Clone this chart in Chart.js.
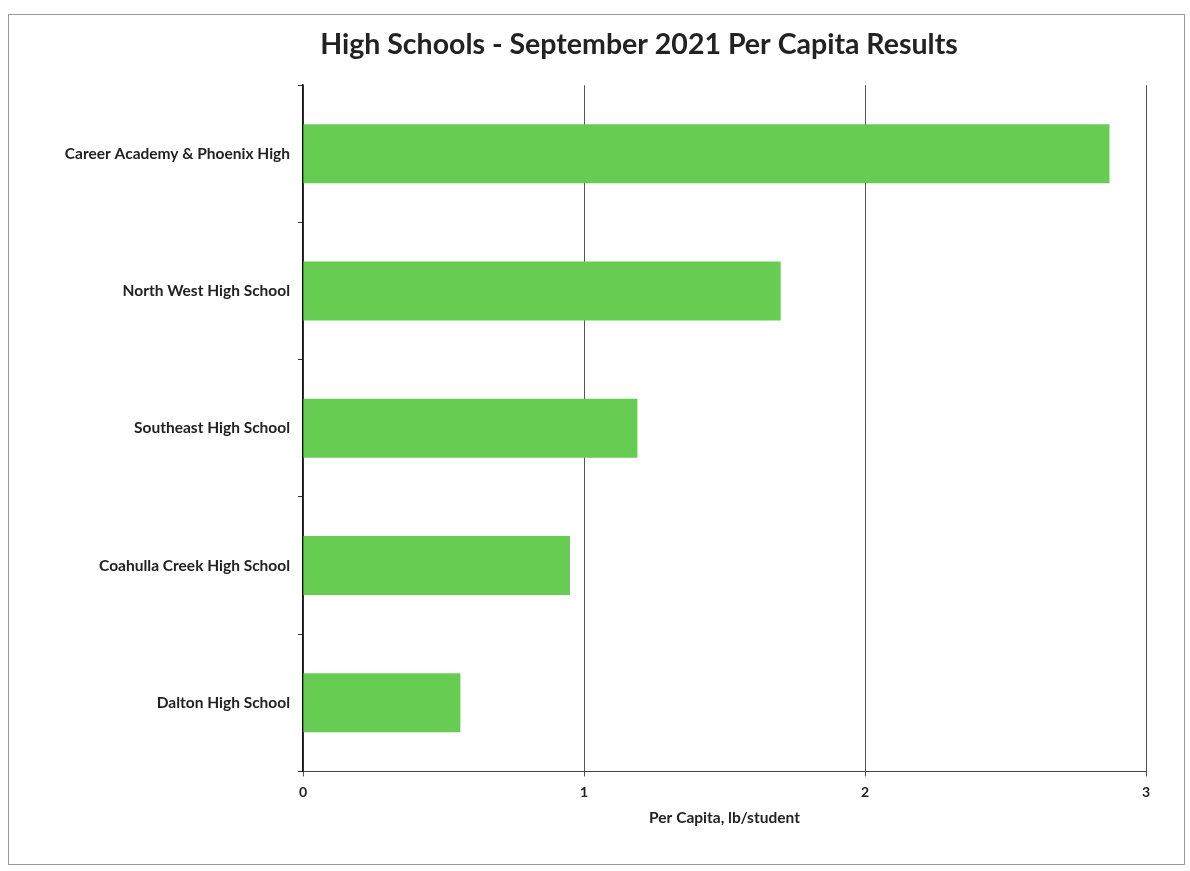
<!DOCTYPE html>
<html>
<head>
<meta charset="utf-8">
<title>High Schools - September 2021 Per Capita Results</title>
<script src="https://cdn.jsdelivr.net/npm/chart.js@4/dist/chart.umd.min.js"></script>
<style>
  html, body { margin: 0; padding: 0; background: #fff; }
  body { width: 1190px; height: 871px; position: relative; overflow: hidden; }
  .frame {
    position: absolute; left: 8px; top: 14px; width: 1177px; height: 851px;
    border: 1px solid #9a9a9a; box-sizing: border-box;
  }
  .wrap { position: absolute; left: 0; top: 0; width: 1190px; height: 871px; }
</style>
</head>
<body>
<div class="frame"></div>
<div class="wrap"><canvas id="perCapitaChart" width="1190" height="871"></canvas></div>
<script>
// ── Data ──
const schools = [
  'Career Academy & Phoenix High',
  'North West High School',
  'Southeast High School',
  'Coahulla Creek High School',
  'Dalton High School'
];
const perCapita = [2.87, 1.70, 1.19, 0.95, 0.56];
const xTicks = [0, 1, 2, 3];

const chartTitle = 'High Schools - September 2021 Per Capita Results';
const xTitle = 'Per Capita, lb/student';

// ── Style ──
const FONT = "Lato, 'Open Sans', sans-serif";
const BAR_GREEN = '#67cc52';
const INK = '#222';
const PAD_LEFT = 45;
const AXIS_X = 303;   // where the value axis starts

const $ = id => document.getElementById(id);

// Title in the original sits right of the page centre; shift its box after layout
const titleShift = {
  id: 'titleShift',
  afterLayout(chart) {
    const t = chart.titleBlock;
    if (!t) return;
    t.left = 88;
    t.right = 1190;
  }
};

// ── Chart ──
const chart = new Chart($('perCapitaChart').getContext('2d'), {
  type: 'bar',
  data: {
    labels: schools,
    datasets: [{
      data: perCapita,
      backgroundColor: BAR_GREEN,
      borderWidth: 0,
      categoryPercentage: 1,
      barPercentage: 0.43,
    }]
  },
  plugins: [titleShift],
  options: {
    indexAxis: 'y',
    responsive: false,
    animation: false,
    layout: { padding: { left: PAD_LEFT, right: 44, top: 28, bottom: 40 } },
    plugins: {
      legend: { display: false },
      tooltip: { enabled: false },
      title: {
        display: true,
        text: chartTitle,
        color: INK,
        font: { family: FONT, size: 28.5, weight: 'bold' },
        padding: { top: 0, bottom: 23 }
      }
    },
    scales: {
      x: {
        min: 0,
        max: 3,
        afterBuildTicks: scale => { scale.ticks = xTicks.map(v => ({ value: v })); },
        grid: { color: '#555', lineWidth: 1, tickLength: 5 },
        border: { color: '#444', width: 1 },
        ticks: {
          color: INK,
          padding: 9,
          font: { family: FONT, size: 14, weight: 'bold', lineHeight: 1 }
        },
        title: {
          display: true,
          text: xTitle,
          color: INK,
          font: { family: FONT, size: 15.5, weight: 'bold' },
          padding: { top: 0, bottom: 4 }
        }
      },
      y: {
        afterFit: scale => { scale.width = AXIS_X - PAD_LEFT; },
        grid: { drawOnChartArea: false, color: '#333', tickLength: 5 },
        border: { color: '#111', width: 1.5 },
        ticks: {
          color: INK,
          padding: 8,
          font: { family: FONT, size: 15.5, weight: 'bold' }
        }
      }
    }
  }
});
</script>
</body>
</html>
